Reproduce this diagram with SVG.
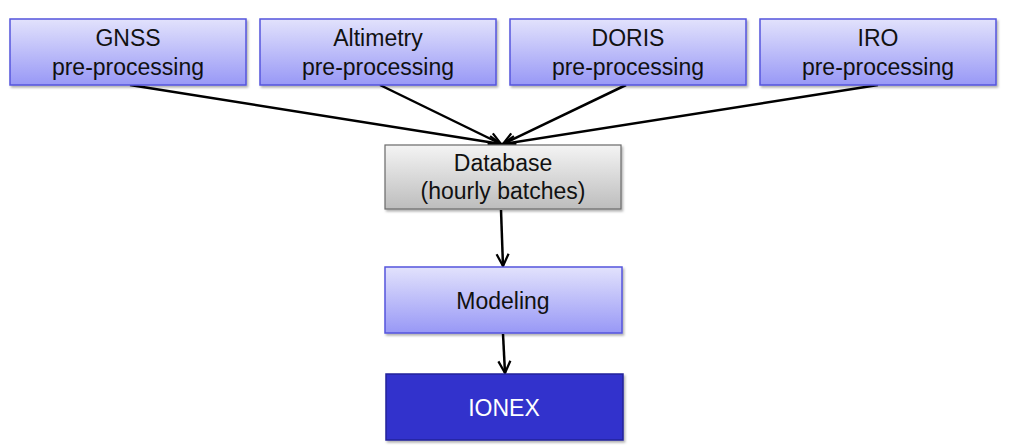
<svg xmlns="http://www.w3.org/2000/svg" width="1011" height="446" viewBox="0 0 1011 446">
<defs>
<linearGradient id="gBlue" x1="0" y1="0" x2="0" y2="1">
<stop offset="0" stop-color="#e2e2fc"/>
<stop offset="1" stop-color="#9898f6"/>
</linearGradient>
<linearGradient id="gGray" x1="0" y1="0" x2="0" y2="1">
<stop offset="0" stop-color="#f4f4f4"/>
<stop offset="1" stop-color="#bdbdbd"/>
</linearGradient>
<filter id="sh" x="-5%" y="-5%" width="115%" height="125%">
<feDropShadow dx="1.5" dy="2" stdDeviation="1.2" flood-color="#000" flood-opacity="0.3"/>
</filter>
<marker id="arr" viewBox="0 0 10 10" refX="9" refY="5" markerWidth="6" markerHeight="6" orient="auto" markerUnits="strokeWidth">
<path d="M1,1 L9,5 L1,9" fill="none" stroke="#000" stroke-width="1.5"/>
</marker>
</defs>
<style>
.blue{fill:url(#gBlue);stroke:#5555dd;stroke-width:1.5;filter:url(#sh)}
.gray{fill:url(#gGray);stroke:#6a6a6a;stroke-width:1.2;filter:url(#sh)}
.dark{fill:#3333cc;stroke:#22229a;stroke-width:1.5;filter:url(#sh)}
text{font-family:"Liberation Sans",Arial,sans-serif;font-size:23px;text-anchor:middle;fill:#111}
.w{fill:#fff}
.c{stroke:#000;stroke-width:2.5;fill:none;marker-end:url(#arr)}
</style>
<g id="connectors">
<line class="c" x1="130" y1="85" x2="501" y2="144"/>
<line class="c" x1="380" y1="85" x2="501" y2="144"/>
<line class="c" x1="626" y1="85" x2="503" y2="144"/>
<line class="c" x1="878" y1="85" x2="503" y2="144"/>
<line class="c" x1="501" y1="210" x2="503" y2="266"/>
<line class="c" x1="503" y1="334" x2="505" y2="373"/>
</g>
<g id="gnss">
<rect class="blue" x="10" y="19" width="236" height="66"/>
<text x="128" y="46">GNSS</text>
<text x="128" y="75">pre-processing</text>
</g>
<g id="altimetry">
<rect class="blue" x="260" y="19" width="236" height="66"/>
<text x="378" y="46">Altimetry</text>
<text x="378" y="75">pre-processing</text>
</g>
<g id="doris">
<rect class="blue" x="510" y="19" width="236" height="66"/>
<text x="628" y="46">DORIS</text>
<text x="628" y="75">pre-processing</text>
</g>
<g id="iro">
<rect class="blue" x="760" y="19" width="236" height="66"/>
<text x="878" y="46">IRO</text>
<text x="878" y="75">pre-processing</text>
</g>
<g id="database">
<rect class="gray" x="385" y="145" width="236" height="64"/>
<text x="503" y="171">Database</text>
<text x="503" y="199">(hourly batches)</text>
</g>
<g id="modeling">
<rect class="blue" x="385" y="267" width="237" height="66"/>
<text x="503" y="309">Modeling</text>
</g>
<g id="ionex">
<rect class="dark" x="386" y="374" width="237" height="66"/>
<text class="w" x="504" y="416">IONEX</text>
</g>
</svg>
